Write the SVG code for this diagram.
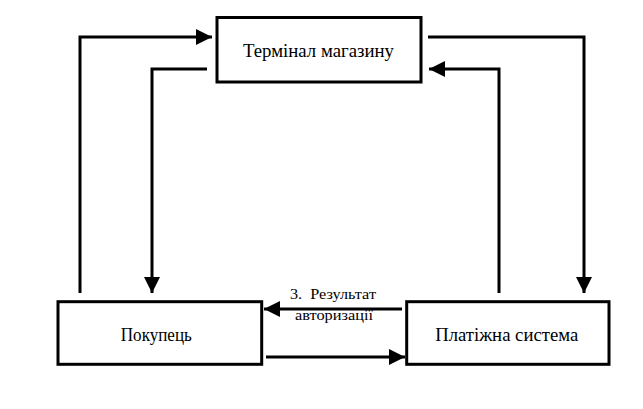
<svg xmlns="http://www.w3.org/2000/svg" width="643" height="409" viewBox="0 0 643 409">
<style>
.box{fill:#fff;stroke:#000;stroke-width:3}
.conn path{fill:none;stroke:#000;stroke-width:3;marker-end:url(#ah)}
</style>
<defs>
<marker id="ah" markerUnits="userSpaceOnUse" markerWidth="16" markerHeight="16" refX="16" refY="8" orient="auto">
<path d="M0,0 L16,8 L0,16 z" fill="#000"/>
</marker>
</defs>
<rect width="643" height="409" fill="#fff"/>
<g id="connectors" class="conn">
<path d="M80,293 V37 H212"/>
<path d="M207,69 H152 V293"/>
<path d="M428,37 H584 V293"/>
<path d="M499,293 V69 H429"/>
<path d="M402,309 H264"/>
<path d="M266,357 H405"/>
</g>
<g font-family="Liberation Serif, DejaVu Serif, serif" fill="#000" text-anchor="middle">
<g id="terminal">
<rect class="box" x="217" y="17.5" width="204" height="64.5"/>
<text x="318.5" y="56.7" font-size="19" textLength="151" lengthAdjust="spacingAndGlyphs">Термінал магазину</text>
</g>
<g id="buyer">
<rect class="box" x="58" y="301.7" width="203.7" height="62.6"/>
<text x="156.3" y="341" font-size="19" textLength="71" lengthAdjust="spacingAndGlyphs">Покупець</text>
</g>
<g id="payment">
<rect class="box" x="406.7" y="301.7" width="202.3" height="62.6"/>
<text x="506.7" y="341" font-size="19" textLength="143" lengthAdjust="spacingAndGlyphs">Платіжна система</text>
</g>
<g id="label-result">
<text x="333" y="299.3" font-size="14" xml:space="preserve" textLength="86" lengthAdjust="spacingAndGlyphs">3.  Результат</text>
<text x="334" y="320" font-size="14" textLength="78" lengthAdjust="spacingAndGlyphs">авторизації</text>
</g>
</g>
</svg>
